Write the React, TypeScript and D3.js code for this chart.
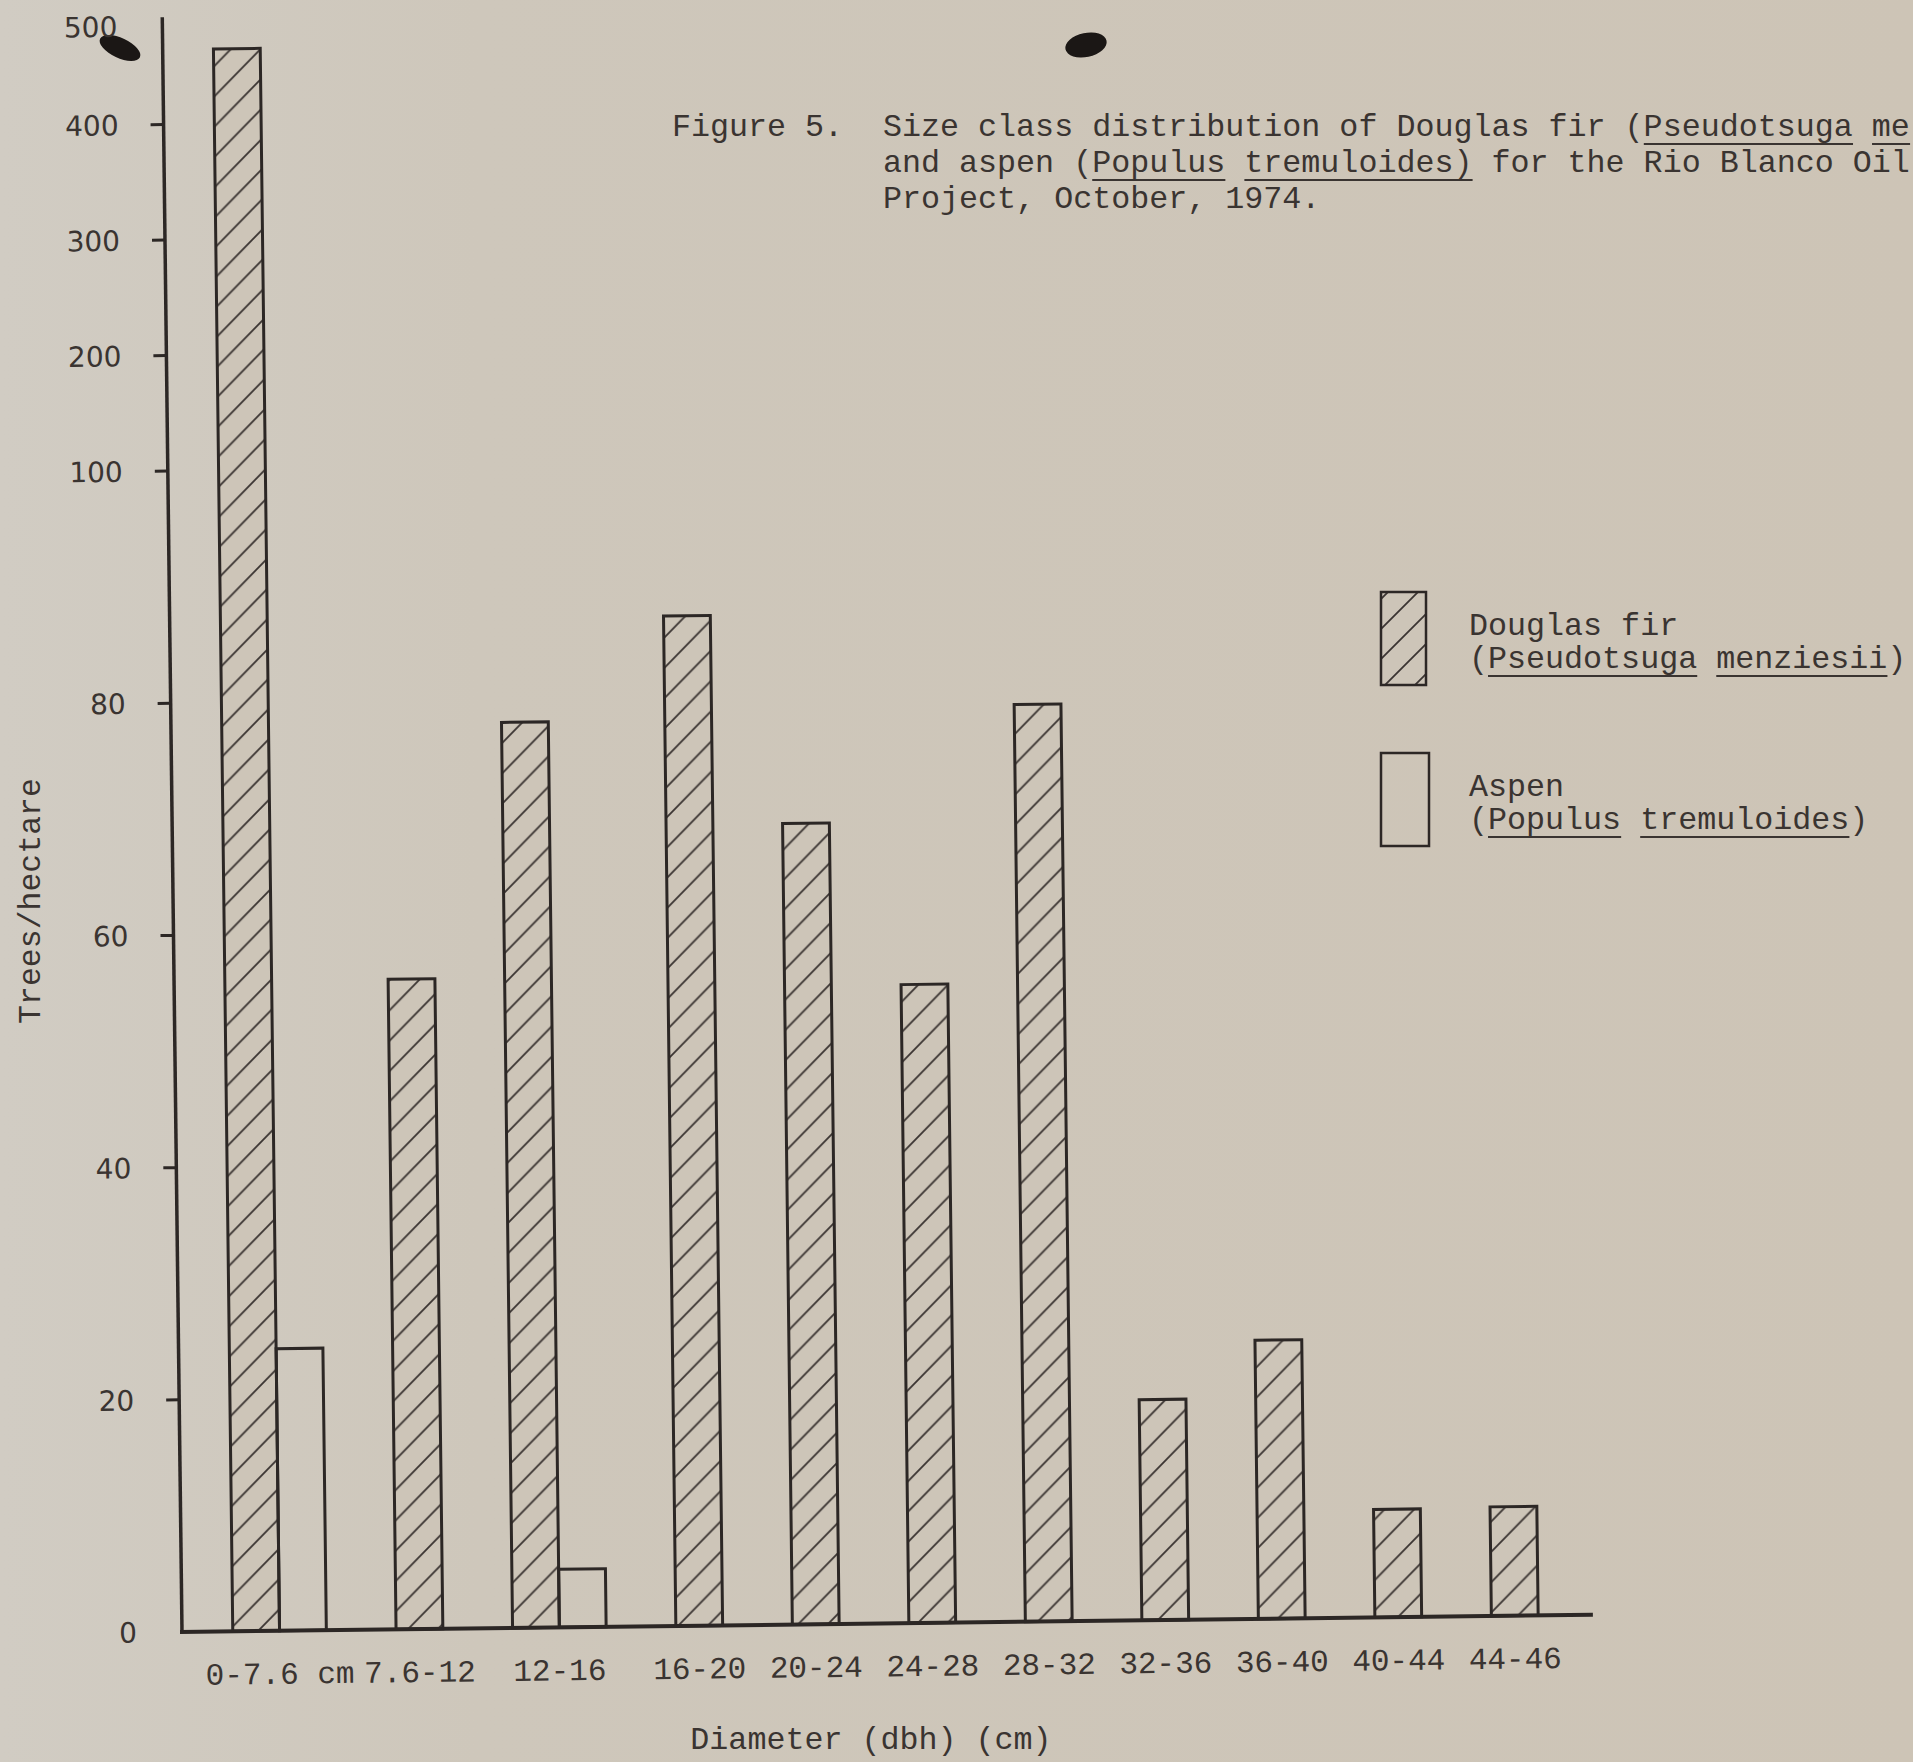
import React from 'react';
import * as d3 from 'd3';

// ---- data ----
const categories = ['0-7.6 cm', '7.6-12', '12-16', '16-20', '20-24', '24-28', '28-32', '32-36', '36-40', '40-44', '44-46'];
const douglasFir = [465, 56, 78, 87, 69, 55, 79, 19, 24, 9.3, 9.4];
const aspen = [24.3, 0, 5, 0, 0, 0, 0, 0, 0, 0, 0];
const yTickValues = [0, 20, 40, 60, 80, 100, 200, 300, 400, 500];
const yBreakDomain = [0, 100, 500];
const yAxisTopValue = 493;

const titleLabel = 'Figure 5.';
// each line: segments [text, underlined]
const titleLines: [string, boolean][][] = [
  [['Size class distribution of Douglas fir (', false], ['Pseudotsuga', true], [' ', false], ['me', true]],
  [['and aspen (', false], ['Populus', true], [' ', false], ['tremuloides)', true], [' for the Rio Blanco Oil', false]],
  [['Project, October, 1974.', false]],
];
const legendItems = [
  { name: 'Douglas fir', latin: [['(', false], ['Pseudotsuga', true], [' ', false], ['menziesii', true], [')', false]] as [string, boolean][], hatched: true },
  { name: 'Aspen', latin: [['(', false], ['Populus', true], [' ', false], ['tremuloides', true], [')', false]] as [string, boolean][], hatched: false },
];
const xAxisTitle = 'Diameter (dbh) (cm)';
const yAxisTitle = 'Trees/hectare';

const PAPER = '#cdc5b8';
const INK = '#2c2725';
const TEXT = '#3a3431';
const MONO = '"Liberation Mono", "DejaVu Sans Mono", monospace';
const SANS = '"DejaVu Sans", "Liberation Sans", sans-serif';

function MonoLine({ x, y, segs, fs, fill }: { x: number; y: number; segs: [string, boolean][]; fs: number; fill: string }) {
  const cw = fs * 0.6;
  let idx = 0;
  const underlines: { x1: number; x2: number }[] = [];
  segs.forEach(([t, u]) => {
    if (u) underlines.push({ x1: x + idx * cw, x2: x + (idx + t.length) * cw });
    idx += t.length;
  });
  const full = segs.map(s => s[0]).join('');
  return (
    <g>
      <text x={x} y={y} fontFamily={MONO} fontSize={fs} fill={fill} style={{ whiteSpace: 'pre' }}>{full}</text>
      {underlines.map((u, i) => (
        <line key={i} x1={u.x1} x2={u.x2} y1={y + 8} y2={y + 8} stroke={fill} strokeWidth={2} />
      ))}
    </g>
  );
}

export default function App() {
  const W = 1913, H = 1762;
  const ox = 182, oy = 1632, axisEnd = 1593;
  const ROT = -0.7;
  const unit = { lead: 1.085, bar: 1, gap: 1.49, trail: 1.17 };

  const nBars = categories.map((_, i) => 1 + (aspen[i] > 0 ? 1 : 0));
  const widths = nBars.map((n, i) => n * unit.bar + (i < nBars.length - 1 ? unit.gap : 0));
  const cum = Array.from(d3.cumsum(widths));
  const starts = nBars.map((_, i) => unit.lead + (i === 0 ? 0 : cum[i - 1]));
  const total = unit.lead + cum[cum.length - 1] + unit.trail;

  const x = d3.scaleLinear().domain([0, total]).range([ox, axisEnd]);
  const y = d3.scaleLinear().domain(yBreakDomain).range([oy, 471, 9]);

  const fs = 31.7;

  return (
    <div style={{ position: 'absolute', left: 0, top: 0 }}>
      <svg width={W} height={H} style={{ display: 'block' }}>
        <defs>
          <pattern id="hatch" patternUnits="userSpaceOnUse" width={30} height={30}>
            <rect width={30} height={30} fill={PAPER} />
            <path d="M-3,33 L33,-3 M-8,8 L8,-8 M22,38 L38,22" stroke="#3b3532" strokeWidth={1.8} />
          </pattern>
          <linearGradient id="paper" x1="0" x2="1" y1="0" y2="0">
            <stop offset="0" stopColor="#d1ccc3" />
            <stop offset="0.25" stopColor="#cec7bb" />
            <stop offset="1" stopColor="#cdc4b6" />
          </linearGradient>
        </defs>
        <rect width={W} height={H} fill="url(#paper)" />

        {/* punch-hole marks */}
        <ellipse cx={120} cy={48} rx={22} ry={10} fill="#1b1715" transform="rotate(25 120 48)" />
        <ellipse cx={1086} cy={45} rx={21} ry={12} fill="#1b1715" transform="rotate(-12 1086 45)" />

        {/* title */}
        <text x={672} y={136} fontFamily={MONO} fontSize={fs} fill={TEXT}>{titleLabel}</text>
        {titleLines.map((segs, i) => (
          <MonoLine key={i} x={883} y={136 + i * 36} segs={segs} fs={fs} fill={TEXT} />
        ))}

        {/* chart (slightly rotated like the scan) */}
        <g transform={`rotate(${ROT} ${ox} ${oy})`}>
          {/* bars */}
          {categories.map((c, i) => {
            const x0 = x(starts[i]);
            const x1 = x(starts[i] + unit.bar);
            return (
              <g key={c}>
                <rect x={x0} y={y(douglasFir[i])} width={x1 - x0} height={oy - y(douglasFir[i])}
                  fill="url(#hatch)" stroke={INK} strokeWidth={3} />
                {aspen[i] > 0 && (
                  <rect x={x1} y={y(aspen[i])} width={x(starts[i] + 2 * unit.bar) - x1} height={oy - y(aspen[i])}
                    fill="none" stroke={INK} strokeWidth={3} />
                )}
              </g>
            );
          })}
          {/* axes */}
          <line x1={ox} x2={ox} y1={oy} y2={y(yAxisTopValue)} stroke={INK} strokeWidth={3.5} />
          <line x1={ox - 2} x2={axisEnd} y1={oy} y2={oy} stroke={INK} strokeWidth={4} />
          {yTickValues.filter(v => v > 0 && v < 500).map(v => (
            <line key={v} x1={ox - 13} x2={ox} y1={y(v)} y2={y(v)} stroke={INK} strokeWidth={3} />
          ))}
          {yTickValues.map(v => (
            <text key={v} x={ox - 45} y={Math.max(y(v), 26)} dy="0.36em" textAnchor="end"
              fontFamily={SANS} fontSize={28} fill={TEXT}>{v}</text>
          ))}
          {/* category labels */}
          {categories.map((c, i) => (
            <text key={c} x={x(starts[i] + nBars[i] * unit.bar / 2)} y={oy + 53} textAnchor="middle"
              fontFamily={MONO} fontSize={31} fill={TEXT} style={{ whiteSpace: 'pre' }}>{c}</text>
          ))}
        </g>

        {/* axis titles */}
        <text x={871} y={1749} textAnchor="middle" fontFamily={MONO} fontSize={fs} fill={TEXT}>{xAxisTitle}</text>
        <text transform="translate(40 901) rotate(-90)" textAnchor="middle" fontFamily={MONO} fontSize={31.5} fill={TEXT}>{yAxisTitle}</text>

        {/* legend */}
        {legendItems.map((it, i) => {
          const top = i === 0 ? 592 : 753;
          return (
            <g key={it.name}>
              <rect x={1381} y={top} width={i === 0 ? 45 : 48} height={93}
                fill={it.hatched ? 'url(#hatch)' : 'none'} stroke={INK} strokeWidth={2.5} />
              <text x={1469} y={top + 43} fontFamily={MONO} fontSize={fs} fill={TEXT}>{it.name}</text>
              <MonoLine x={1469} y={top + 76} segs={it.latin} fs={fs} fill={TEXT} />
            </g>
          );
        })}
      </svg>
    </div>
  );
}
